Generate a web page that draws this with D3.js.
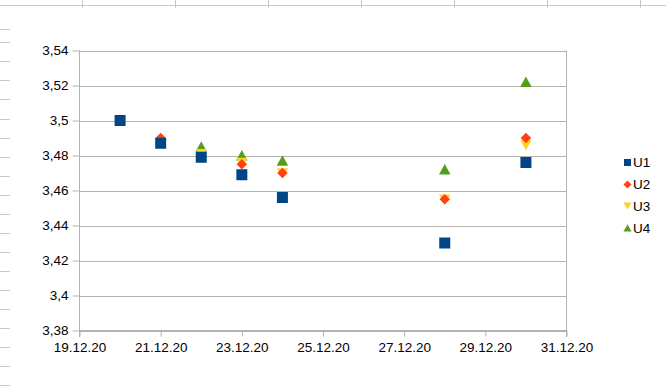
<!DOCTYPE html>
<html>
<head>
<meta charset="utf-8">
<script src="https://cdn.jsdelivr.net/npm/d3@7"></script>
<style>
  html, body { margin: 0; padding: 0; background: #fff; }
  svg { display: block; }
  text { font-family: "Liberation Sans", Arial, sans-serif; fill: #000; }
</style>
</head>
<body>
<svg id="chart" width="666" height="386"></svg>
<script>
// ---- data ----
const dates = ["2020-12-20", "2020-12-21", "2020-12-22", "2020-12-23", "2020-12-24", "2020-12-28", "2020-12-30"];
const seriesNames = ["U1", "U2", "U3", "U4"];
const u1 = [3.500, 3.487, 3.479, 3.469, 3.456, 3.430, 3.476];
const u2 = [null, 3.490, 3.479, 3.475, 3.470, 3.455, 3.490];
const u3 = [null, null, 3.481, 3.476, 3.470, 3.455, 3.486];
const u4 = [null, null, 3.485, 3.480, 3.477, 3.472, 3.522];
const yTicks = [3.38, 3.40, 3.42, 3.44, 3.46, 3.48, 3.50, 3.52, 3.54];
const xTickDates = ["2020-12-19", "2020-12-21", "2020-12-23", "2020-12-25", "2020-12-27", "2020-12-29", "2020-12-31"];
const colors = ["#004586", "#ff420e", "#ffd320", "#579d1c"];

const svg = d3.select("#chart");
const parse = d3.utcParse("%Y-%m-%d");

// ---- spreadsheet background remnants ----
const bg = svg.append("g").attr("stroke", "#c8c8c8").attr("stroke-width", 1);
bg.append("line").attr("x1", 0).attr("x2", 666).attr("y1", 5.5).attr("y2", 5.5);
[82, 175, 268, 361, 454, 547, 640].forEach(x => {
  bg.append("line").attr("x1", x + 0.5).attr("x2", x + 0.5).attr("y1", 0).attr("y2", 8);
});
const dashYs = [29.5];
for (let k = 0; k < 19; k++) dashYs.push(Math.round(42.3 + 19.05 * k) + 0.5);
dashYs.forEach(y => {
  bg.append("line").attr("x1", 0).attr("x2", 10).attr("y1", y).attr("y2", y);
});

// ---- scales ----
const x = d3.scaleUtc()
  .domain([parse("2020-12-19"), parse("2020-12-31")])
  .range([79.5, 566.5]);
const y = d3.scaleLinear()
  .domain([3.38, 3.54])
  .range([330.5, 50.5]);

const loc = d3.formatLocale({decimal: ",", thousands: ".", grouping: [3], currency: ["", "€"]});
const yFmt = loc.format("~r");
const xFmt = d3.utcFormat("%d.%m.%y");

// gridlines
svg.append("g").selectAll("line").data(yTicks).join("line")
  .attr("x1", 79.5).attr("x2", 566.5)
  .attr("y1", d => Math.round(y(d)) + 0.5).attr("y2", d => Math.round(y(d)) + 0.5)
  .attr("stroke", "#b3b3b3");

// right border
svg.append("line").attr("x1", 566.5).attr("x2", 566.5).attr("y1", 50.5).attr("y2", 337)
  .attr("stroke", "#b3b3b3");

// y axis
const yAxis = svg.append("g").attr("transform", "translate(79.5,0)")
  .call(d3.axisLeft(y).tickValues(yTicks).tickFormat(yFmt).tickSize(7).tickPadding(4));
yAxis.select(".domain").attr("stroke", "#b3b3b3").attr("d", "M0,50.5V337");
yAxis.selectAll(".tick line").attr("stroke", "#b3b3b3");
yAxis.selectAll("text").attr("font-size", "13.5px").attr("fill", "#000")
  .attr("font-family", "Liberation Sans, Arial, sans-serif");

// x axis
const xAxis = svg.append("g").attr("transform", "translate(0,330.5)")
  .call(d3.axisBottom(x).tickValues(xTickDates.map(parse)).tickFormat(xFmt).tickSize(6).tickPadding(6));
xAxis.select(".domain").attr("stroke", "#b3b3b3").attr("d", "M79.5,0H566.5");
xAxis.selectAll(".tick line").attr("stroke", "#b3b3b3");
xAxis.selectAll("text").attr("font-size", "13.5px").attr("fill", "#000")
  .attr("font-family", "Liberation Sans, Arial, sans-serif");

// ---- markers ----
function markerPath(i, s) {
  const h = s / 2;
  if (i === 0) return `M${-h},${-h}H${h}V${h}H${-h}Z`;
  if (i === 1) return `M0,${-h}L${h},0L0,${h}L${-h},0Z`;
  if (i === 2) return `M${-h},${-h * 0.85}H${h}L0,${h * 0.95}Z`;
  return `M${-h},${h * 0.85}H${h}L0,${-h * 0.95}Z`;
}
const allSeries = [u1, u2, u3, u4];
const sizes = [11, 10.5, 11, 11.5];
// draw in reverse order so U1 is on top
for (let si = allSeries.length - 1; si >= 0; si--) {
  const pts = dates.map((d, i) => ({d: parse(d), v: allSeries[si][i]})).filter(p => p.v != null);
  svg.append("g").selectAll("path").data(pts).join("path")
    .attr("transform", p => `translate(${x(p.d)},${y(p.v)})`)
    .attr("d", markerPath(si, sizes[si]))
    .attr("fill", colors[si]);
}

// ---- legend ----
const legY = [162.5, 184.5, 206, 228];
const leg = svg.append("g");
seriesNames.forEach((name, i) => {
  leg.append("path")
    .attr("transform", `translate(627.5,${legY[i]})`)
    .attr("d", markerPath(i, i === 0 ? 7 : 8))
    .attr("fill", colors[i]);
  leg.append("text").attr("x", 633).attr("y", legY[i]).attr("dy", "0.36em")
    .attr("font-size", "13.5px").text(name);
});
</script>
</body>
</html>
